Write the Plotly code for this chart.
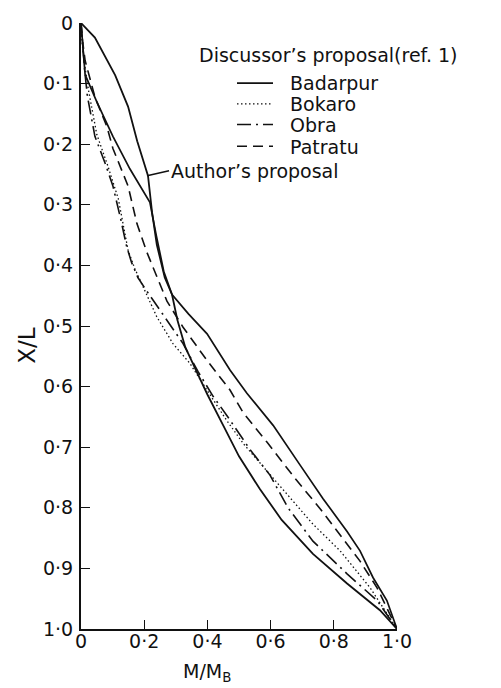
import plotly.graph_objects as go

# ---- data (M/MB on x, X/L on y) ----
author_x = [0, 0.044, 0.108, 0.149, 0.178, 0.212, 0.225, 0.24, 0.265, 0.288, 0.305, 0.33, 0.37, 0.40, 0.45, 0.50, 0.566, 0.635, 0.734, 0.842, 0.946, 1.0]
author_y = [0, 0.024, 0.086, 0.138, 0.195, 0.252, 0.313, 0.366, 0.42, 0.448, 0.49, 0.535, 0.58, 0.613, 0.664, 0.715, 0.769, 0.82, 0.876, 0.925, 0.969, 1.0]

badarpur_x = [0, 0.006, 0.013, 0.05, 0.101, 0.155, 0.218, 0.238, 0.262, 0.288, 0.34, 0.399, 0.472, 0.525, 0.608, 0.694, 0.766, 0.842, 0.883, 0.924, 0.968, 1.0]
badarpur_y = [0, 0.04, 0.085, 0.13, 0.187, 0.241, 0.296, 0.35, 0.41, 0.448, 0.48, 0.513, 0.573, 0.611, 0.664, 0.73, 0.785, 0.839, 0.871, 0.915, 0.953, 1.0]

bokaro_x = [0, 0.005, 0.012, 0.022, 0.05, 0.085, 0.118, 0.133, 0.149, 0.17, 0.196, 0.24, 0.291, 0.345, 0.399, 0.46, 0.515, 0.56, 0.645, 0.734, 0.82, 0.915, 1.0]
bokaro_y = [0, 0.04, 0.07, 0.106, 0.184, 0.236, 0.29, 0.33, 0.375, 0.405, 0.435, 0.485, 0.529, 0.562, 0.606, 0.655, 0.695, 0.722, 0.772, 0.827, 0.871, 0.932, 1.0]

obra_x = [0, 0.005, 0.012, 0.02, 0.044, 0.076, 0.101, 0.125, 0.145, 0.16, 0.18, 0.209, 0.259, 0.323, 0.37, 0.418, 0.462, 0.535, 0.598, 0.655, 0.734, 0.842, 0.937, 1.0]
obra_y = [0, 0.04, 0.08, 0.12, 0.187, 0.231, 0.269, 0.322, 0.37, 0.395, 0.42, 0.443, 0.48, 0.529, 0.575, 0.616, 0.648, 0.704, 0.746, 0.80, 0.855, 0.909, 0.953, 1.0]

patratu_x = [0, 0.005, 0.013, 0.044, 0.082, 0.101, 0.149, 0.177, 0.209, 0.244, 0.272, 0.323, 0.399, 0.472, 0.513, 0.589, 0.639, 0.678, 0.756, 0.829, 0.883, 0.937, 1.0]
patratu_y = [0, 0.03, 0.062, 0.122, 0.171, 0.207, 0.269, 0.331, 0.379, 0.423, 0.459, 0.502, 0.557, 0.606, 0.643, 0.692, 0.725, 0.752, 0.801, 0.85, 0.888, 0.932, 1.0]

x_tickvals = [0, 0.2, 0.4, 0.6, 0.8, 1.0]
x_ticktext = ["0", "0·2", "0·4", "0·6", "0·8", "1·0"]
y_tickvals = [0, 0.1, 0.2, 0.3, 0.4, 0.5, 0.6, 0.7, 0.8, 0.9, 1.0]
y_ticktext = ["0", "0·1", "0·2", "0·3", "0·4", "0·5", "0·6", "0·7", "0·8", "0·9", "1·0"]

FONT = "DejaVu Sans"
FS = 19
INK = "#111111"

fig = go.Figure()

fig.add_trace(go.Scatter(x=author_x, y=author_y, mode="lines", name="Author’s proposal",
                         line=dict(color=INK, width=1.8), showlegend=False))
fig.add_trace(go.Scatter(x=badarpur_x, y=badarpur_y, mode="lines", name="\u00a0\u00a0Badarpur",
                         line=dict(color=INK, width=1.7), legend="legend"))
fig.add_trace(go.Scatter(x=bokaro_x, y=bokaro_y, mode="lines", name="\u00a0\u00a0Bokaro",
                         line=dict(color=INK, width=1.3, dash="1.5px,2.5px"), legend="legend2"))
fig.add_trace(go.Scatter(x=obra_x, y=obra_y, mode="lines", name="\u00a0\u00a0Obra",
                         line=dict(color=INK, width=1.6, dash="14px,5px,2px,5px"), legend="legend3"))
fig.add_trace(go.Scatter(x=patratu_x, y=patratu_y, mode="lines", name="\u00a0\u00a0Patratu",
                         line=dict(color=INK, width=1.6, dash="10px,6px"), legend="legend4"))

# plot area in pixels: left 81, right 397, top 15, bottom 629
L, R, T, B = 81, 397, 15, 629
W, H = 501, 688


def px_x(p):
    return (p - L) / (R - L)


def px_y(p):
    return 1 - (p - T) / (B - T)


def leg(ypx):
    return dict(x=px_x(232), y=px_y(ypx), xanchor="left", yanchor="middle",
                bgcolor="rgba(0,0,0,0)", borderwidth=0, itemwidth=36,
                font=dict(family=FONT, size=FS, color=INK))


fig.update_layout(
    width=W, height=H,
    margin=dict(l=L, r=W - R, t=T, b=H - B, pad=0),
    paper_bgcolor="white", plot_bgcolor="white",
    font=dict(family=FONT, size=FS, color=INK),
    legend=leg(76), legend2=leg(97), legend3=leg(118), legend4=leg(140),
    xaxis=dict(range=[0, 1.0], tickvals=x_tickvals, ticktext=x_ticktext,
               ticks="inside", ticklen=9, tickwidth=1.3, tickcolor=INK,
               showline=True, linecolor=INK, linewidth=2, showgrid=False, zeroline=False,
               tickfont=dict(family=FONT, size=FS, color=INK), ticklabelstandoff=-6),
    yaxis=dict(range=[1.0, 0], tickvals=y_tickvals, ticktext=y_ticktext,
               ticks="inside", ticklen=9, tickwidth=1.3, tickcolor=INK,
               showline=True, linecolor=INK, linewidth=2, showgrid=False, zeroline=False,
               tickfont=dict(family=FONT, size=FS, color=INK), ticklabelstandoff=2),
    annotations=[
        dict(text="Discussor’s proposal(ref. 1)", x=px_x(197), y=px_y(47), xref="paper", yref="paper",
             xanchor="left", yanchor="middle", showarrow=False, font=dict(family=FONT, size=FS, color=INK)),
        dict(text="Author’s proposal", x=0.209, y=0.252, xref="x", yref="y",
             ax=22, ay=-5, xanchor="left", yanchor="middle", showarrow=True, arrowhead=0,
             arrowwidth=1.5, arrowcolor=INK, standoff=0,
             font=dict(family=FONT, size=FS, color=INK)),
        dict(text="X/L", x=px_x(27), y=px_y(342), xref="paper", yref="paper",
             textangle=-90, showarrow=False, xanchor="center", yanchor="middle",
             font=dict(family=FONT, size=23, color=INK)),
        dict(text="M/M<sub>B</sub>", x=0.4, y=px_y(673), xref="x", yref="paper",
             showarrow=False, xanchor="center", yanchor="middle",
             font=dict(family=FONT, size=FS, color=INK)),
    ],
)

fig.write_html("out.html", include_plotlyjs=True)
